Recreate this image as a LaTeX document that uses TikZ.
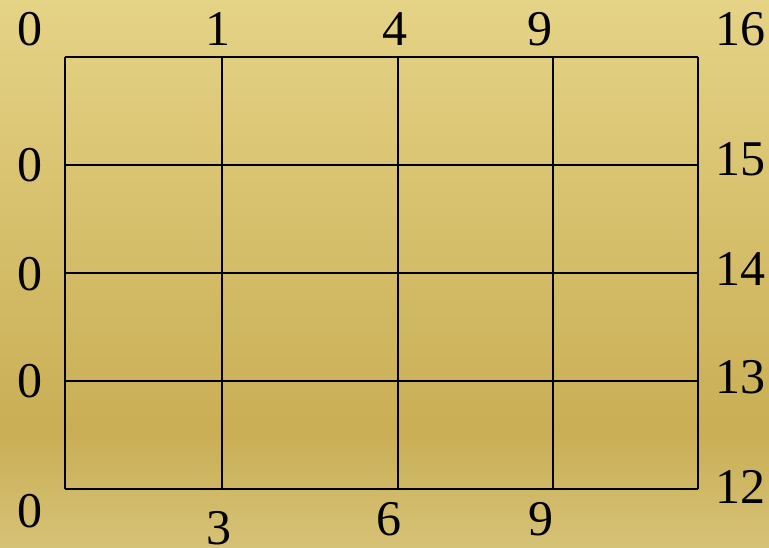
\documentclass[tikz,border=0pt]{standalone}
\usepackage{fontspec}
\setmainfont{Liberation Serif}
\definecolor{ctop}{HTML}{E5D386}
\definecolor{cmid}{HTML}{C9AE55}
\definecolor{cbot}{HTML}{D6C276}
\tikzset{
  lbl/.style={inner sep=0pt, anchor=center, font=\fontsize{50}{50}\selectfont, text=black},
  gridline/.style={draw=black, line width=2pt}
}
\begin{document}
\begin{tikzpicture}[x=1pt,y=-1pt]
\useasboundingbox (0,0) rectangle (769,548);
\shade[top color=ctop, bottom color=cmid] (0,0) rectangle (769,431);
\shade[top color=cmid, bottom color=cbot] (0,430) rectangle (769,548);
% grid
\foreach \x in {65,222,398,553,698} \draw[gridline] (\x,57) -- (\x,489);
\foreach \y in {57,165,273,381,489} \draw[gridline] (65,\y) -- (698,\y);
% top labels
\node[lbl] (t0) at (30,29) {0};
\node[lbl] (t1) at (218,29) {1};
\node[lbl] (t4) at (395,29) {4};
\node[lbl] (t9) at (540,29) {9};
\node[lbl] (t16) at (740,29) {16};
% left labels
\node[lbl] (l1) at (30,165) {0};
\node[lbl] (l2) at (30,274) {0};
\node[lbl] (l3) at (30,381) {0};
\node[lbl] (l4) at (30,511) {0};
% right labels
\node[lbl] (r15) at (740,159) {15};
\node[lbl] (r14) at (740,269) {14};
\node[lbl] (r13) at (740,377) {13};
\node[lbl] (r12) at (740,487) {12};
% bottom labels
\node[lbl] (b3) at (219,528) {3};
\node[lbl] (b6) at (389,519) {6};
\node[lbl] (b9) at (541,519) {9};
\end{tikzpicture}
\end{document}
